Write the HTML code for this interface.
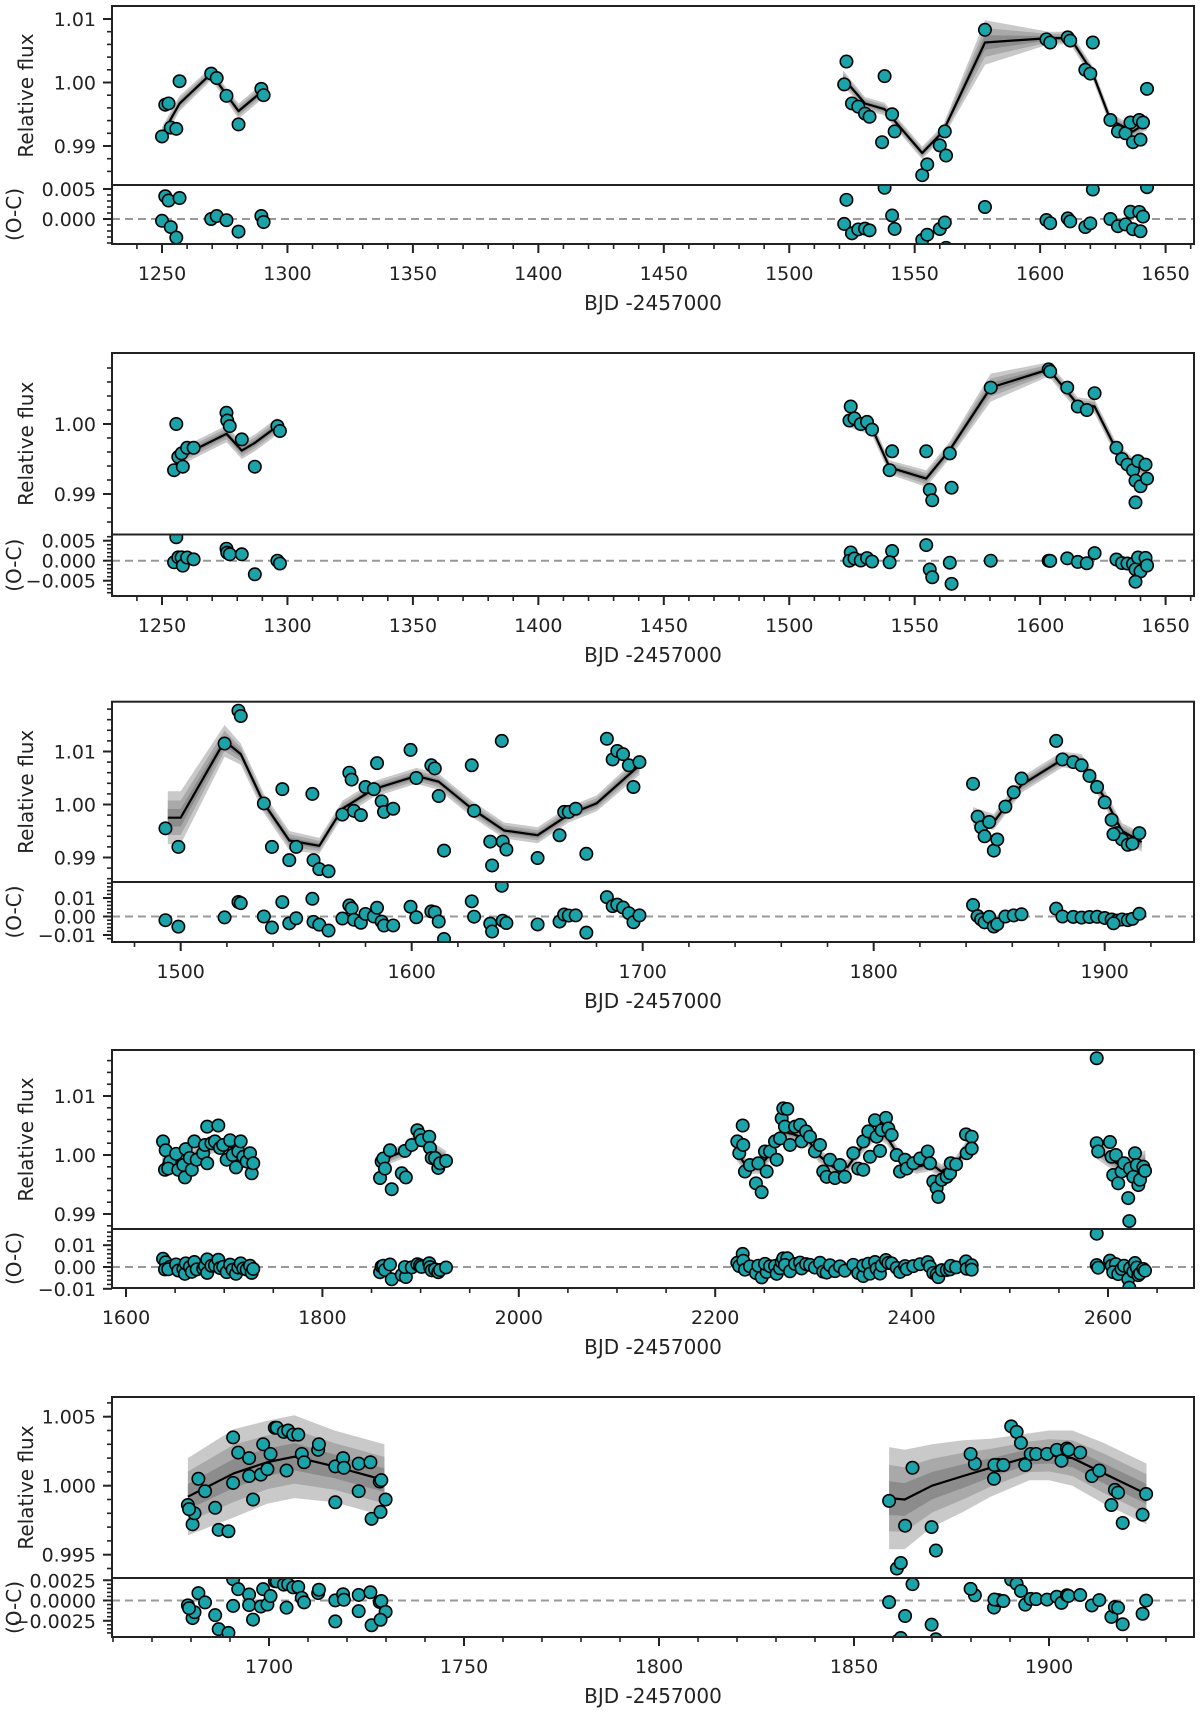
<!DOCTYPE html>
<html><head><meta charset="utf-8"><style>
html,body{margin:0;padding:0;background:#fff;}
svg{display:block;font-family:"DejaVu Sans","Liberation Sans",sans-serif;}
</style></head><body>
<svg id="fig" xmlns="http://www.w3.org/2000/svg" width="1200" height="1712" viewBox="0 0 1200 1712"></svg>
<script>
// ---------- Panel 1 data ----------
const p1_t=[1250,1251.3,1252.6,1253.5,1255.7,1257,1269.6,1271.8,1275.7,1280.5,1289.6,1290.5,1522.8,1521.9,1525,1527.5,1530.2,1532,1537,1538,1541,1542,1553,1555,1560,1562,1562.5,1578,1602.5,1604,1611,1612,1618,1620,1621,1628,1631,1634,1636,1637,1639.5,1641,1642.6,1640];
const p1_f=[0.9915,0.9965,0.9967,0.9929,0.9927,1.0002,1.0014,1.0007,0.9979,0.9934,0.9990,0.9980,1.0033,0.9997,0.9967,0.9962,0.9951,0.9946,0.9906,1.0010,0.9950,0.9923,0.9854,0.9871,0.9901,0.9923,0.9885,1.0083,1.0068,1.0063,1.0071,1.0066,1.0020,1.0014,1.0063,0.9941,0.9923,0.9920,0.9937,0.9906,0.9941,0.9937,0.9990,0.9910];
const p1_mt=[1250,1257,1269.6,1275.7,1280.5,1289.6,1521.5,1530.2,1538,1553,1561.3,1578,1603.4,1612,1620.7,1628,1637,1642.6];
const p1_mf=[0.9918,0.9967,1.0014,0.9981,0.9955,0.9985,1.0007,0.9967,0.9958,0.9889,0.9923,1.0063,1.0070,1.0070,1.0017,0.9941,0.9923,0.9937];
const p1_band=[0.0012,0.0012,0.001,0.001,0.0012,0.0012,0.0012,0.001,0.001,0.001,0.001,0.0035,0.001,0.001,0.001,0.001,0.001,0.0012];
// ---------- Panel 2 data ----------
const p2_t=[1255.7,1254.8,1256.5,1257.8,1258.3,1260,1262.6,1275.7,1276,1277,1281.8,1287,1296,1297,1524.5,1524,1526,1528.5,1531,1533,1541,1540,1554.6,1556,1557,1564,1564.7,1580.3,1603.4,1604,1610.8,1615,1618.6,1621.7,1630.4,1632.6,1634.8,1637,1638,1639,1640,1642,1642.6,1638];
const p2_f=[1.0000,0.9934,0.9953,0.9958,0.9939,0.9966,0.9966,1.0016,1.0005,0.9997,0.9978,0.9939,0.9997,0.9990,1.0025,1.0005,1.0008,1.0000,1.0003,0.9992,0.9961,0.9934,0.9961,0.9906,0.9891,0.9958,0.9909,1.0052,1.0078,1.0075,1.0052,1.0025,1.0020,1.0044,0.9966,0.9950,0.9942,0.9934,0.9919,0.9947,0.9911,0.9942,0.9922,0.9888];
const p2_mt=[1254.8,1260,1275.7,1281.8,1287,1296,1524,1533,1540,1554.6,1564,1580.3,1603.4,1615,1621.7,1630.4,1637,1642.6];
const p2_mf=[0.9938,0.9958,0.9986,0.9962,0.9973,0.9997,1.0005,0.9994,0.9938,0.9922,0.9963,1.0052,1.0078,1.0028,1.0025,0.9963,0.9942,0.9934];
const p2_band=[0.0012,0.0012,0.0012,0.0012,0.0012,0.0012,0.001,0.001,0.001,0.0012,0.0012,0.002,0.001,0.001,0.001,0.001,0.001,0.0012];
// ---------- Panel 3 data ----------
const p3_t=[1493.4,1499,1519,1525,1526,1536,1539.5,1544,1547,1550,1557,1557.5,1560,1564,1570,1573,1574,1575,1578,1580,1583.6,1585,1587,1588,1592,1599.5,1602,1608.5,1610,1611.7,1614,1626,1627,1634,1634.8,1639,1639.4,1641,1654.5,1664,1666,1668,1671,1675.6,1684.5,1687,1689,1691.5,1694,1696,1698.6,1843,1845,1846.5,1848,1850,1852,1853.5,1857,1860.6,1864,1879,1881.7,1886.4,1890,1893.4,1896.7,1900,1903,1905.3,1907.5,1910,1912,1915,1903.8];
const p3_f=[0.9955,0.9920,1.0115,1.0177,1.0167,1.0002,0.9920,1.0029,0.9895,0.9920,1.0020,0.9895,0.9878,0.9874,0.9981,1.0060,1.0047,0.9988,0.9980,1.0033,1.0029,1.0078,1.0006,0.9986,0.9992,1.0103,1.0050,1.0074,1.0068,1.0016,0.9913,1.0074,0.9988,0.9930,0.9885,1.0120,0.9930,0.9915,0.9899,0.9942,0.9986,0.9986,0.9992,0.9907,1.0124,1.0085,1.0101,1.0095,1.0074,1.0033,1.0080,1.0039,0.9977,0.9957,0.9940,0.9967,0.9913,0.9934,0.9996,1.0023,1.0049,1.0120,1.0085,1.0080,1.0074,1.0054,1.0033,1.0004,0.9971,0.9946,0.9934,0.9924,0.9926,0.9946,0.9944];
const p3_mt=[1494.4,1500,1519,1526,1536,1547,1560,1570,1583.6,1602,1611.7,1626,1640,1654.5,1668,1680,1698.6,1843,1852,1864,1881.7,1890,1900,1907.5,1916];
const p3_mf=[0.9975,0.9975,1.0120,1.0095,1.0002,0.9932,0.9922,0.9992,1.0029,1.0054,1.0043,0.9992,0.9951,0.9942,0.9981,1.0002,1.0074,0.9977,0.9967,1.0037,1.0085,1.0080,1.0012,0.9950,0.9929];
const p3_band=[0.005,0.005,0.003,0.002,0.0018,0.0018,0.0015,0.0015,0.0015,0.0015,0.0015,0.0015,0.0015,0.0015,0.0015,0.0015,0.0018,0.0018,0.0015,0.0015,0.0015,0.0015,0.0015,0.0015,0.0018];
// ---------- Panel 4 data ----------
const p4_t=[1637.7,1640.4,1639.7,1644.8,1643,1651,1653.3,1658.4,1660,1660.8,1665,1667,1669.6,1672,1678.6,1680.4,1682.7,1682.7,1687,1690.6,1694,1695.7,1699,1702.5,1706,1708.6,1712,1714.4,1716.8,1719.5,1722.9,1726.3,1728,1729.6,
1858.7,1860.3,1862,1863.7,1868.8,1870.6,1880.8,1885,1884,1891,1896.7,1899.4,1901,1908.8,1909.6,1911.3,1914.7,1918,1919.8,1925.9,
2222.5,2224.5,2228,2228.6,2230.3,2235.4,2241.5,2247.3,2243.9,2252.4,2250.7,2255.8,2260.9,2262.6,2266,2267.7,2269.3,2273.4,2271,2276.2,2281.3,2286.4,2288,2292.5,2296.5,2301.6,2306.7,2310,2313.5,2316.9,2322,2327,2332,2340.6,2345.7,2350.8,2350.8,2355.9,2357.6,2362.7,2364.4,2367.8,2369.5,2373.9,2376.3,2379.7,2384.8,2388.2,2393.3,2395,2401.7,2408.6,2416.4,2418.7,2422.1,2425.5,2427.2,2430.7,2435.8,2439.2,2439.9,2445.3,2455.4,2456.1,2461.2,2461.2,
2588.5,2588.5,2590,2602,2603.7,2608,2605.3,2610.4,2613.8,2616.3,2620.6,2621.7,2622.4,2625.8,2627.5,2629.3,2630.9,2632.6,2636,2637.7];
const p4_f=[1.0023,1.0008,0.9975,0.9989,0.9977,1.0002,0.9975,0.9983,0.9962,1.0010,0.9995,0.9975,1.0023,0.9992,1.0003,1.0017,1.0048,0.9986,1.0020,1.0023,1.0050,1.0012,1.0017,0.9992,1.0025,1.0000,0.9979,1.0006,1.0023,0.9997,0.9989,1.0003,0.9969,0.9986,
0.9961,0.9989,0.9994,0.9977,1.0008,0.9942,0.9969,0.9962,1.0007,1.0017,1.0042,1.0034,1.0025,1.0031,1.0012,0.9995,0.9995,0.9978,0.9986,0.9990,
1.0023,1.0003,1.0050,1.0017,0.9972,0.9983,0.9952,0.9937,0.9986,0.9972,1.0006,1.0006,1.0023,0.9992,1.0028,1.0062,1.0079,1.0078,1.0048,1.0017,1.0048,1.0051,1.0023,1.0040,1.0031,1.0006,1.0017,0.9972,0.9963,0.9992,0.9961,0.9983,0.9963,1.0003,0.9977,0.9975,1.0023,1.0040,0.9997,1.0059,1.0031,1.0007,1.0042,1.0063,1.0045,1.0034,1.0000,0.9972,0.9992,0.9977,0.9986,0.9994,1.0006,0.9986,0.9955,0.9944,0.9929,0.9958,0.9963,0.9969,0.9986,0.9984,1.0035,1.0003,1.0031,1.0011,
1.0164,1.0020,1.0006,1.0022,0.9997,1.0000,0.9966,0.9952,0.9972,0.9986,0.9927,0.9888,0.9977,0.9963,1.0003,0.9983,0.9949,0.9958,0.9980,0.9973];
const p4_mt=[1637,1650,1665,1680,1695,1705,1715,1729,1859,1870,1885,1897,1910,1926,2222,2232,2245,2255,2268,2280,2295,2305,2320,2335,2350,2365,2375,2390,2405,2420,2430,2445,2462,2588,2600,2615,2628,2638];
const p4_mf=[0.9985,0.9990,0.9995,1.0012,1.0017,1.0015,1.0008,0.9995,0.9985,0.9998,1.0008,1.0030,1.0012,0.9992,1.0005,0.9980,0.9980,1.0000,1.0040,1.0035,1.0025,1.0000,0.9980,0.9980,1.0015,1.0040,1.0030,0.9990,0.9980,0.9985,0.9972,0.9985,1.0025,1.0012,0.9995,0.9980,0.9985,0.9990];
const p4_band=[0.0015,0.0012,0.0012,0.0012,0.0012,0.0012,0.0012,0.0015,0.0015,0.0012,0.0012,0.0012,0.0012,0.0015,0.0015,0.0012,0.0012,0.0012,0.0012,0.0012,0.0012,0.0012,0.0012,0.0012,0.0012,0.0012,0.0012,0.0012,0.0012,0.0012,0.0012,0.0012,0.0015,0.0018,0.0015,0.0015,0.0015,0.0018];
// ---------- Panel 5 data ----------
const p5_t=[1679.2,1681.9,1683.6,1690.8,1690.8,1692.1,1694.9,1694.9,1695.9,1697.9,1698.5,1699.6,1700.4,1701.5,1702,1703.8,1704.9,1704.5,1706.2,1707.5,1708.4,1709,1712.6,1712.8,1717,1717,1719,1719.2,1723,1723,1726,1728.4,1728.8,1729.9,1680.4,1680.9,1686.2,1687.1,1689.6,1726.3,1728.6,1679.5,
1859,1861,1862,1863.1,1865,1869.9,1871,1881,1885.9,1887,1879.9,1886,1888.3,1890.3,1891.7,1892.8,1893.9,1895.3,1896.7,1899.5,1902,1903.2,1904.6,1905,1908,1911,1912.9,1916,1916.9,1917.7,1918.9,1924,1924.9];
const p5_f=[0.9986,1.0005,0.9996,1.0035,1.0002,1.0024,1.0020,1.0007,0.9990,1.0008,1.0030,1.0012,1.0023,1.0042,1.0042,1.0039,1.0040,1.0011,1.0037,1.0037,1.0023,1.0017,1.0026,1.0030,0.9988,1.0014,1.0020,1.0013,0.9996,1.0016,1.0017,1.0003,1.0004,0.9990,0.9972,0.9980,0.9984,0.9968,0.9967,0.9976,0.9981,0.9983,
0.9989,0.9940,0.9944,0.9971,1.0013,0.9970,0.9953,1.0016,1.0005,1.0015,1.0023,1.0015,1.0015,1.0043,1.0039,1.0031,1.0015,1.0023,1.0023,1.0023,1.0026,1.0018,1.0027,1.0026,1.0024,1.0007,1.0011,0.9986,0.9997,0.9995,0.9973,0.9979,0.9994];
const p5_mt=[1679.2,1691,1699.6,1706.5,1716.8,1729.6,1859,1863,1870,1878,1885,1895,1900,1906,1914,1925];
const p5_mf=[0.9992,1.0009,1.0017,1.0021,1.0014,1.0004,0.9991,0.9990,1.0000,1.0007,1.0013,1.0021,1.0022,1.0020,1.0009,0.9994];
const p5_band=[0.0028,0.0032,0.0030,0.0030,0.0026,0.0026,0.0037,0.0036,0.0030,0.0026,0.0021,0.0017,0.0018,0.0020,0.0022,0.0022];

const panels=[
 {t:p1_t,f:p1_f,mt:p1_mt,mf:p1_mf,band:p1_band,top:6,mid:185,bot:244,xr:1250,xp:162,xs:2.509,fp:82.5,fs:6350,rp:219,rs:6000,
  xticks:[1250,1300,1350,1400,1450,1500,1550,1600,1650],xminor:10,fticks:[0.99,1.00,1.01],flab:["0.99","1.00","1.01"],fminor:0.002,
  rticks:[0,0.005],rlab:["0.000","0.005"],rminor:0.001},
 {t:p2_t,f:p2_f,mt:p2_mt,mf:p2_mf,band:p2_band,top:353,mid:534.5,bot:596,xr:1250,xp:162,xs:2.509,fp:424,fs:7000,rp:560.7,rs:4000,
  xticks:[1250,1300,1350,1400,1450,1500,1550,1600,1650],xminor:10,fticks:[0.99,1.00],flab:["0.99","1.00"],fminor:0.002,
  rticks:[-0.005,0,0.005],rlab:["\u22120.005","0.000","0.005"],rminor:0.001},
 {t:p3_t,f:p3_f,mt:p3_mt,mf:p3_mf,band:p3_band,top:701.7,mid:882,bot:942,xr:1500,xp:180.7,xs:2.31,fp:804.5,fs:5300,rp:916.5,rs:1850,
  xticks:[1500,1600,1700,1800,1900],xminor:20,fticks:[0.99,1.00,1.01],flab:["0.99","1.00","1.01"],fminor:0.002,
  rticks:[-0.01,0,0.01],rlab:["\u22120.01","0.00","0.01"],rminor:0.002},
 {t:p4_t,f:p4_f,mt:p4_mt,mf:p4_mf,band:p4_band,top:1050,mid:1229,bot:1288,xr:1600,xp:126,xs:0.982,fp:1155,fs:5900,rp:1267,rs:2180,
  xticks:[1600,1800,2000,2200,2400,2600],xminor:50,fticks:[0.99,1.00,1.01],flab:["0.99","1.00","1.01"],fminor:0.002,
  rticks:[-0.01,0,0.01],rlab:["\u22120.01","0.00","0.01"],rminor:0.002},
 {t:p5_t,f:p5_f,mt:p5_mt,mf:p5_mf,band:p5_band,top:1397,mid:1578,bot:1637,xr:1900,xp:1049,xs:3.9,fp:1485.7,fs:13800,rp:1600.5,rs:8100,
  xticks:[1700,1750,1800,1850,1900],xminor:10,fticks:[0.995,1.000,1.005],flab:["0.995","1.000","1.005"],fminor:0.001,
  rticks:[-0.0025,0,0.0025],rlab:["\u22120.0025","0.0000","0.0025"],rminor:0.0005}
];
const L=112,R=1194;
const svg=document.getElementById('fig');
const NS='http://www.w3.org/2000/svg';
function mk(tag,attrs,parent){const e=document.createElementNS(NS,tag);for(const k in attrs)e.setAttribute(k,attrs[k]);parent.appendChild(e);return e;}

panels.forEach((p,i)=>{
  const n=i+1;
  const X=t=>p.xp+(t-p.xr)*p.xs;
  const FY=f=>p.fp-(f-1)*p.fs;
  const RY=r=>p.rp-r*p.rs;
  const g=mk('g',{},svg);
  
  
  const defs=mk('defs',{},g);
  const c1=mk('clipPath',{id:'ct'+n},defs); mk('rect',{x:L,y:p.top,width:R-L,height:p.mid-p.top},c1);
  const c2=mk('clipPath',{id:'cr'+n},defs); mk('rect',{x:L,y:p.mid,width:R-L,height:p.bot-p.mid},c2);
  const segs=[];let cur=[0];
  for(let k=1;k<p.mt.length;k++){ if(p.mt[k]-p.mt[k-1]>60){segs.push(cur);cur=[k];} else cur.push(k);} segs.push(cur);
  function model(t){
    let best=segs[0],bd=1e9;
    segs.forEach(s=>{const a=p.mt[s[0]],b=p.mt[s[s.length-1]];const d=t<a?a-t:(t>b?t-b:0);if(d<bd){bd=d;best=s;}});
    const s=best;
    if(t<=p.mt[s[0]])return p.mf[s[0]];
    if(t>=p.mt[s[s.length-1]])return p.mf[s[s.length-1]];
    for(let j=1;j<s.length;j++){const a=s[j-1],b=s[j];if(t<=p.mt[b]){const u=(t-p.mt[a])/(p.mt[b]-p.mt[a]);return p.mf[a]+u*(p.mf[b]-p.mf[a]);}}
    return p.mf[s[s.length-1]];
  }
  const top=mk('g',{'clip-path':'url(#ct'+n+')'},g);
  
  
  const shades=[[1,'#c9c9c9'],[0.65,'#a9a9a9'],[0.33,'#8c8c8c']];
  segs.forEach((s,si)=>{
    shades.forEach(([k,col])=>{
      const up=s.map(j=>X(p.mt[j]).toFixed(1)+','+FY(p.mf[j]+p.band[j]*k).toFixed(1));
      const lo=s.slice().reverse().map(j=>X(p.mt[j]).toFixed(1)+','+FY(p.mf[j]-p.band[j]*k).toFixed(1));
      const poly=mk('polygon',{points:up.concat(lo).join(' '),fill:col,stroke:'none'},top);
      
      
    });
    const ln=mk('polyline',{points:s.map(j=>X(p.mt[j]).toFixed(1)+','+FY(p.mf[j]).toFixed(1)).join(' '),fill:'none',stroke:'#000','stroke-width':2.2,'stroke-linejoin':'round'},top);
    
    
  });
  const res=mk('g',{'clip-path':'url(#cr'+n+')'},g);
  
  
  const zl=mk('line',{x1:L,x2:R,y1:RY(0),y2:RY(0),stroke:'#999','stroke-width':2,'stroke-dasharray':'8,5'},res);
  
  
  for(let k=0;k<Math.min(p.t.length,p.f.length);k++){
    const c=mk('circle',{cx:X(p.t[k]),cy:FY(p.f[k]),r:6.2,fill:'#1aa3a8',stroke:'#000','stroke-width':1.6},top);
    
    
    const r=p.f[k]-model(p.t[k]);
    const c2=mk('circle',{cx:X(p.t[k]),cy:RY(r),r:6.2,fill:'#1aa3a8',stroke:'#000','stroke-width':1.6},res);
    
    
  }
  const fr=mk('rect',{x:L,y:p.top,width:R-L,height:p.bot-p.top,fill:'none',stroke:'#222','stroke-width':2},g);
  
  
  const dv=mk('line',{x1:L,x2:R,y1:p.mid,y2:p.mid,stroke:'#222','stroke-width':2},g);
  
  
  const ax=mk('g',{fill:'#222','font-size':'19px'},g);
  
  
  const tmin=p.xr+(L-p.xp)/p.xs,tmax=p.xr+(R-p.xp)/p.xs;
  for(let k=Math.ceil(tmin/p.xminor);k<=Math.floor(tmax/p.xminor);k++){
    const x=X(k*p.xminor);mk('line',{x1:x,x2:x,y1:p.bot,y2:p.bot+5,stroke:'#222','stroke-width':1.6},ax);
  }
  p.xticks.forEach(v=>{const x=X(v);mk('line',{x1:x,x2:x,y1:p.bot,y2:p.bot+9,stroke:'#222','stroke-width':2},ax);
    const tx=mk('text',{x:x,y:p.bot+36,'text-anchor':'middle'},ax);tx.textContent=String(v);
    
    });
  const fmin=1-(p.mid-p.fp)/p.fs,fmax=1+(p.fp-p.top)/p.fs;
  for(let k=Math.ceil(fmin/p.fminor-1e-6);k<=Math.floor(fmax/p.fminor+1e-6);k++){
    const y=FY(k*p.fminor);if(y<p.top+1||y>p.mid-1)continue;mk('line',{x1:L-5,x2:L,y1:y,y2:y,stroke:'#222','stroke-width':1.6},ax);}
  p.fticks.forEach((v,j)=>{const y=FY(v);mk('line',{x1:L-9,x2:L,y1:y,y2:y,stroke:'#222','stroke-width':2},ax);
    const tx=mk('text',{x:L-16,y:y+7,'text-anchor':'end'},ax);tx.textContent=p.flab[j];
    
    });
  const rmin=-(p.bot-p.rp)/p.rs,rmax=(p.rp-p.mid)/p.rs;
  for(let k=Math.ceil(rmin/p.rminor-1e-6);k<=Math.floor(rmax/p.rminor+1e-6);k++){
    const y=RY(k*p.rminor);if(y<p.mid+1||y>p.bot-1)continue;mk('line',{x1:L-5,x2:L,y1:y,y2:y,stroke:'#222','stroke-width':1.6},ax);}
  p.rticks.forEach((v,j)=>{const y=RY(v);mk('line',{x1:L-9,x2:L,y1:y,y2:y,stroke:'#222','stroke-width':2},ax);
    const tx=mk('text',{x:L-16,y:y+7,'text-anchor':'end'},ax);tx.textContent=p.rlab[j];
    
    });
  const fy=(p.top+p.mid)/2;
  const yt=mk('text',{x:0,y:0,'text-anchor':'middle','font-size':'20px',fill:'#222',transform:'translate(33,'+fy+') rotate(-90)'},g);
  yt.textContent='Relative flux';
  
  
  const ry=(p.mid+p.bot)/2;
  const rt=mk('text',{x:0,y:0,'text-anchor':'middle','font-size':'20px',fill:'#222',transform:'translate(21,'+ry+') rotate(-90)'},g);
  rt.textContent='(O-C)';
  
  
  const xt=mk('text',{x:(L+R)/2,y:p.bot+66,'text-anchor':'middle','font-size':'20px',fill:'#222'},g);
  xt.textContent='BJD -2457000';
  
  
});
</script>
</body></html>
